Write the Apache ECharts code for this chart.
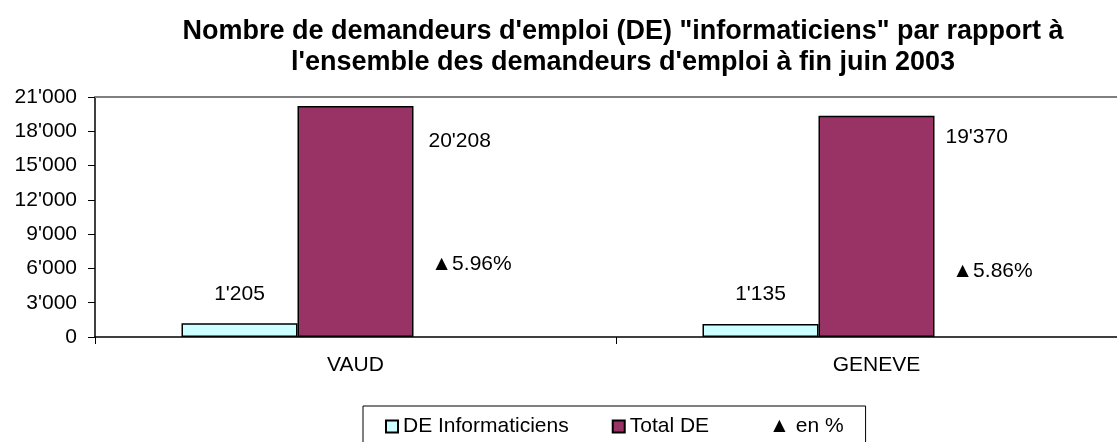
<!DOCTYPE html>
<html>
<head>
<meta charset="utf-8">
<script src="https://cdn.jsdelivr.net/npm/echarts@6/dist/echarts.min.js"></script>
<style>
  html, body { margin: 0; padding: 0; background: #fff; }
  #chart { width: 1117px; height: 442px; }
</style>
</head>
<body>
<div id="chart"></div>
<script>
// donnees
var cantons = ['VAUD', 'GENEVE'];
var deInfo = [1205, 1135];
var totalDE = [20208, 19370];
var pctInfo = [5.96, 5.86];
var yTicks = [0, 3000, 6000, 9000, 12000, 15000, 18000, 21000];

// decalage des etiquettes (style seulement)
var totalLabelPos = [[131, 35], [127, 22]];
var pctLabelDist = [62, 55];

function fmt(v) {
    return String(v).replace(/\B(?=(\d{3})+(?!\d))/g, "'");
}

var font = 'Liberation Sans, Arial, sans-serif';

var myChart = echarts.init(document.getElementById('chart'));
var option = {
    backgroundColor: '#fff',
    animation: false,
    title: {
        text: 'Nombre de demandeurs d\'emploi (DE) "informaticiens" par rapport à\nl\'ensemble des demandeurs d\'emploi à fin juin 2003',
        left: 618,
        top: 11,
        textAlign: 'center',
        textStyle: {
            fontFamily: font,
            fontSize: 27,
            fontWeight: 'bold',
            color: '#000',
            lineHeight: 31
        }
    },
    legend: {
        left: 363,
        top: 406,
        padding: [10, 22, 14, 22],
        borderColor: '#000',
        borderWidth: 1,
        itemWidth: 12,
        itemHeight: 12,
        itemGap: 43,
        textStyle: { fontFamily: font, fontSize: 21, color: '#000' },
        data: [
            { name: 'DE Informaticiens', icon: 'rect', itemStyle: { borderColor: '#000', borderWidth: 2 } },
            { name: 'Total DE', icon: 'rect', itemStyle: { borderColor: '#000', borderWidth: 2 } },
            { name: '▲ en %', icon: 'none' }
        ]
    },
    grid: {
        left: 95,
        top: 97,
        width: 1042,
        height: 240,
        outerBoundsMode: 'none'
    },
    xAxis: [{
        type: 'category',
        data: cantons,
        axisLine: { lineStyle: { color: '#000', width: 1.5 } },
        axisTick: { show: true, length: 7, lineStyle: { color: '#000' } },
        axisLabel: { fontFamily: font, fontSize: 21, color: '#000', margin: 18 }
    }, {
        type: 'category',
        data: cantons,
        position: 'top',
        axisLine: { show: true, lineStyle: { color: '#808080', width: 2 } },
        axisTick: { show: false },
        axisLabel: { show: false }
    }],
    yAxis: {
        type: 'value',
        min: yTicks[0],
        max: yTicks[yTicks.length - 1],
        interval: 3000,
        axisLine: { show: true, lineStyle: { color: '#000', width: 1.5 } },
        axisTick: { show: true, length: 7, lineStyle: { color: '#000' } },
        splitLine: { show: false },
        axisLabel: {
            fontFamily: font, fontSize: 21, color: '#000', margin: 18,
            formatter: function (v) { return fmt(v); }
        }
    },
    series: [{
        name: 'DE Informaticiens',
        type: 'bar',
        barWidth: 116,
        barGap: 0,
        data: deInfo,
        itemStyle: { color: '#CCFFFF', borderColor: '#000', borderWidth: 1.5 },
        label: {
            show: true, position: 'top', distance: 19,
            fontFamily: font, fontSize: 21, color: '#000',
            formatter: function (p) { return fmt(p.value); }
        }
    }, {
        name: 'Total DE',
        type: 'bar',
        barWidth: 116,
        barGap: 0,
        data: totalDE.map(function (v, i) {
            return { value: v, label: { position: totalLabelPos[i] } };
        }),
        itemStyle: { color: '#993366', borderColor: '#000', borderWidth: 1.5 },
        label: {
            show: true,
            align: 'left', verticalAlign: 'middle',
            fontFamily: font, fontSize: 21, color: '#000',
            formatter: function (p) { return fmt(p.value); }
        }
    }, {
        name: '▲ en %',
        type: 'bar',
        barWidth: 116,
        barGap: 0,
        data: pctInfo.map(function (v, i) {
            return { value: v, label: { distance: pctLabelDist[i] } };
        }),
        itemStyle: { color: 'rgba(0,0,0,0)' },
        label: {
            show: true, position: 'top',
            fontFamily: font, fontSize: 21, color: '#000',
            formatter: function (p) { return '▲' + p.value.toFixed(2) + '%'; }
        }
    }]
};
myChart.setOption(option, true);
</script>
</body>
</html>
